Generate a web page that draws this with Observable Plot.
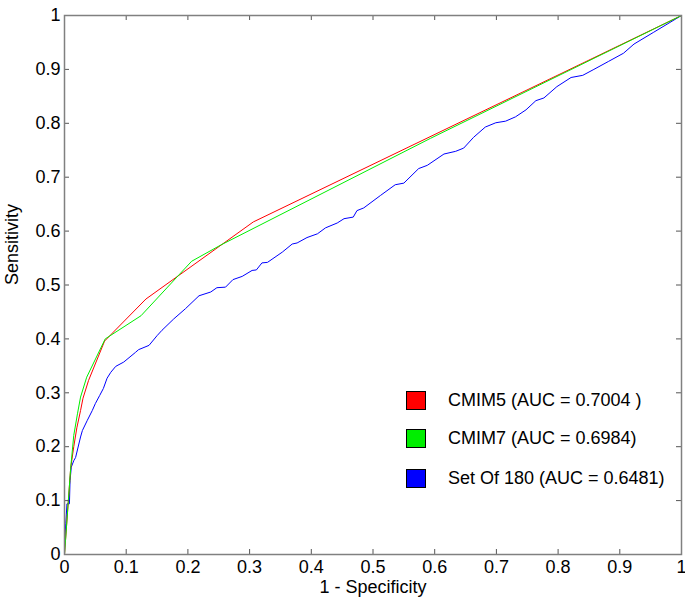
<!DOCTYPE html>
<html>
<head>
<meta charset="utf-8">
<script src="https://cdn.jsdelivr.net/npm/d3@7"></script>
<script src="https://cdn.jsdelivr.net/npm/@observablehq/plot@0.6"></script>
<style>
  html, body { margin: 0; padding: 0; background: #fff; }
  #wrap { position: relative; width: 685px; height: 603px; font-family: "Liberation Sans", Arial, sans-serif; }
  .legend-row { position: absolute; left: 406px; height: 20px; display: flex; align-items: center; font-size: 18px; color: #000; white-space: nowrap; }
  .legend-box { width: 18px; height: 17px; border: 1px solid #000; margin-right: 22px; }
</style>
</head>
<body>
<div id="wrap"></div>
<script>
// ---- data ----
const seriesNames = ["CMIM5 (AUC = 0.7004 )", "CMIM7 (AUC = 0.6984)", "Set Of 180 (AUC = 0.6481)"];
const seriesColors = ["#ff0000", "#00ee00", "#0000ff"];

const cmim5X = [0, 0.01, 0.015, 0.02, 0.026, 0.03, 0.039, 0.065, 0.132, 0.306, 1];
const cmim5Y = [0, 0.16, 0.2, 0.235, 0.267, 0.29, 0.323, 0.396, 0.474, 0.617, 1];

const cmim7X = [0, 0.01, 0.015, 0.021, 0.026, 0.036, 0.066, 0.124, 0.206, 0.253, 0.593, 1];
const cmim7Y = [0, 0.16, 0.221, 0.261, 0.292, 0.329, 0.40, 0.443, 0.544, 0.574, 0.772, 1];

const set180X = [0, 0, 0.002, 0.003, 0.004, 0.008, 0.009, 0.011, 0.015, 0.018, 0.026, 0.029, 0.037, 0.045, 0.050, 0.057, 0.063, 0.069, 0.075, 0.083, 0.096, 0.115, 0.120, 0.137, 0.150, 0.158, 0.177, 0.196, 0.218, 0.237, 0.247, 0.261, 0.273, 0.288, 0.304, 0.311, 0.320, 0.329, 0.353, 0.369, 0.377, 0.393, 0.410, 0.423, 0.442, 0.453, 0.468, 0.474, 0.485, 0.512, 0.536, 0.550, 0.574, 0.588, 0.615, 0.634, 0.647, 0.663, 0.682, 0.699, 0.715, 0.731, 0.748, 0.764, 0.777, 0.798, 0.821, 0.840, 0.858, 0.882, 0.906, 0.923, 0.955, 1];
const set180Y = [0.01, 0.014, 0.057, 0.075, 0.094, 0.094, 0.137, 0.162, 0.174, 0.18, 0.218, 0.23, 0.249, 0.267, 0.28, 0.295, 0.308, 0.327, 0.338, 0.349, 0.357, 0.375, 0.380, 0.388, 0.406, 0.416, 0.437, 0.456, 0.480, 0.487, 0.495, 0.496, 0.510, 0.516, 0.527, 0.528, 0.541, 0.542, 0.561, 0.576, 0.578, 0.588, 0.595, 0.606, 0.615, 0.623, 0.626, 0.638, 0.643, 0.666, 0.686, 0.689, 0.716, 0.722, 0.743, 0.748, 0.754, 0.774, 0.793, 0.801, 0.804, 0.812, 0.825, 0.842, 0.847, 0.868, 0.885, 0.889, 0.900, 0.915, 0.930, 0.947, 0.969, 1];

const xTicks = [0, 0.1, 0.2, 0.3, 0.4, 0.5, 0.6, 0.7, 0.8, 0.9, 1];
const yTicks = [0, 0.1, 0.2, 0.3, 0.4, 0.5, 0.6, 0.7, 0.8, 0.9, 1];
const xLabel = "1 - Specificity";
const yLabel = "Sensitivity";

// ---- build tables ----
const toRows = (xs, ys) => xs.map((x, i) => ({x, y: ys[i]}));
const rows5 = toRows(cmim5X, cmim5Y);
const rows7 = toRows(cmim7X, cmim7Y);
const rows180 = toRows(set180X, set180Y);

const W = 685, H = 603, mL = 64, mR = 4, mT = 15, mB = 49;
const plotW = W - mL - mR, plotH = H - mT - mB, tk = 5;
const tickColor = "#555";

const chart = Plot.plot({
  width: W, height: H,
  marginLeft: mL, marginRight: mR, marginTop: mT, marginBottom: mB,
  style: {fontFamily: '"Liberation Sans", Arial, sans-serif', color: "#000", background: "#fff", overflow: "visible"},
  x: {domain: [0, 1]},
  y: {domain: [0, 1]},
  marks: [
    Plot.line(rows180, {x: "x", y: "y", stroke: seriesColors[2], strokeWidth: 1}),
    Plot.line(rows5, {x: "x", y: "y", stroke: seriesColors[0], strokeWidth: 1}),
    Plot.line(rows7, {x: "x", y: "y", stroke: seriesColors[1], strokeWidth: 1}),
    // inward ticks on all four sides
    Plot.tickX(xTicks, {x: d => d, insetTop: plotH - tk, stroke: tickColor}),
    Plot.tickX(xTicks, {x: d => d, insetBottom: plotH - tk, stroke: tickColor}),
    Plot.tickY(yTicks, {y: d => d, insetRight: plotW - tk, stroke: tickColor}),
    Plot.tickY(yTicks, {y: d => d, insetLeft: plotW - tk, stroke: tickColor}),
    Plot.axisX({ticks: xTicks, tickSize: 0, tickPadding: 6, fontSize: 18, tickFormat: d => String(d), label: null}),
    Plot.axisY({ticks: yTicks, tickSize: 0, tickPadding: 4, fontSize: 18, tickFormat: d => String(d), label: null}),
    Plot.text([xLabel], {text: d => d, frameAnchor: "bottom", dy: 38, fontSize: 18, fill: "#000"}),
    Plot.text([yLabel], {text: d => d, frameAnchor: "left", dx: -52, rotate: -90, fontSize: 18, fill: "#000"}),
    Plot.frame({stroke: "#808080", strokeWidth: 1.5})
  ]
});

const wrap = document.getElementById("wrap");
wrap.appendChild(chart);

// legend (HTML overlay)
const legendCenters = [400.5, 438, 478.5];
seriesNames.forEach((name, i) => {
  const row = document.createElement("div");
  row.className = "legend-row";
  row.style.top = (legendCenters[i] - 10) + "px";
  const box = document.createElement("div");
  box.className = "legend-box";
  box.style.background = seriesColors[i];
  const label = document.createElement("span");
  label.textContent = name;
  row.appendChild(box);
  row.appendChild(label);
  wrap.appendChild(row);
});
</script>
</body>
</html>
